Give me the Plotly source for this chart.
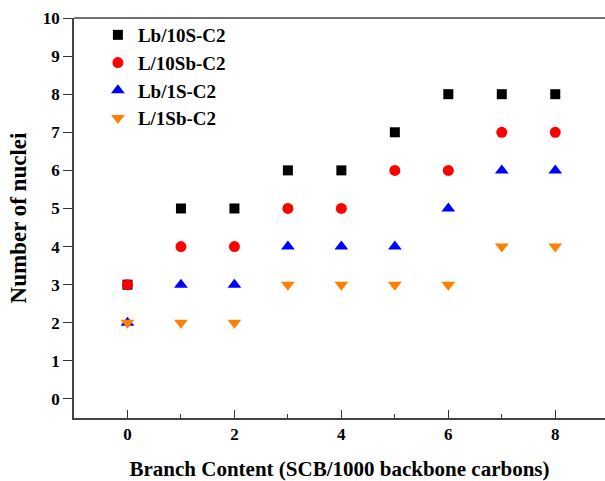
import plotly.graph_objects as go

x_vals = [0, 1, 2, 3, 4, 5, 6, 7, 8]
lb_10s = [3, 5, 5, 6, 6, 7, 8, 8, 8]
l_10sb = [3, 4, 4, 5, 5, 6, 6, 7, 7]
lb_1s = [2, 3, 3, 4, 4, 4, 5, 6, 6]
l_1sb = [2, 2, 2, 3, 3, 3, 3, 4, 4]

series = [
    ("Lb/10S-C2", lb_10s, "square", "#000000", 10),
    ("L/10Sb-C2", l_10sb, "circle", "#FF0000", 11),
    ("Lb/1S-C2", lb_1s, "triangle-up", "#0000FF", 12),
    ("L/1Sb-C2", l_1sb, "triangle-down", "#FF8000", 12),
]

font_family = "Liberation Serif, Times New Roman, serif"

fig = go.Figure()
for name, ys, sym, col, sz in series:
    fig.add_trace(go.Scatter(
        x=x_vals, y=ys, mode="markers", name=name,
        marker=dict(symbol=sym, color=col, size=sz, line=dict(width=0)),
    ))

fig.update_layout(
    width=605, height=481,
    margin=dict(l=74, r=0, t=18, b=63),
    plot_bgcolor="white", paper_bgcolor="white",
    font=dict(family=font_family, color="black"),
    showlegend=True,
    legend=dict(
        x=0.045, y=1.005, xanchor="left", yanchor="top",
        bgcolor="rgba(0,0,0,0)",
        font=dict(size=19, family=font_family, color="black", weight="bold"),
        itemsizing="trace",
        tracegroupgap=0,
    ),
    xaxis=dict(
        range=[-1, 8.93],
        tick0=0, dtick=2,
        ticks="inside", ticklen=8, tickwidth=1.2, tickcolor="#333",
        minor=dict(dtick=1, tick0=0, ticks="inside", ticklen=4, tickwidth=1.2, tickcolor="#333"),
        showline=True, linecolor="#444", linewidth=1.5,
        showgrid=False, zeroline=False,
        tickfont=dict(size=17, family=font_family, weight="bold"),
        title=dict(text="Branch Content (SCB/1000 backbone carbons)",
                   font=dict(size=21, family=font_family, weight="bold"),
                   standoff=18),
    ),
    yaxis=dict(
        range=[-0.5, 10],
        tick0=0, dtick=1,
        ticks="outside", ticklen=9, tickwidth=1.2, tickcolor="#333",
        showline=True, linecolor="#444", linewidth=1.5,
        showgrid=False, zeroline=False,
        tickfont=dict(size=17, family=font_family, weight="bold"),
        title=dict(text="Number of nuclei",
                   font=dict(size=23, family=font_family, weight="bold"),
                   standoff=10),
    ),
)

fig.add_shape(type="line", xref="paper", yref="paper", x0=0, x1=1, y0=1, y1=1,
              line=dict(color="#444", width=1.5))

fig.write_html("out.html")
